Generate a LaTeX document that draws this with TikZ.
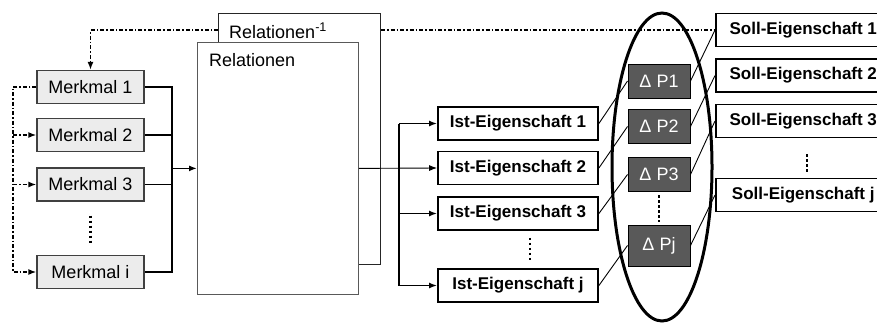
\documentclass[tikz,border=0pt]{standalone}
\usepackage{fontspec}
\setmainfont{Liberation Sans}
\usetikzlibrary{arrows.meta}

\begin{document}
\begin{tikzpicture}[
  x=1pt,y=-1pt,
  font=\fontsize{18}{21}\selectfont,
  >={Latex[length=8pt,width=6pt]},
  box/.style={rectangle,draw,inner sep=0pt,minimum height=33pt},
  mm/.style={box,fill=gray!15,draw=black!75,line width=1.2pt,minimum width=107pt},
  ist/.style={box,line width=1.8pt,minimum width=160pt,font=\fontsize{17}{20}\selectfont\bfseries},
  soll/.style={box,anchor=west,line width=1.5pt,minimum width=175pt,font=\fontsize{17}{20}\selectfont\bfseries},
  dp/.style={box,fill=black!65,draw=black,line width=1pt,minimum width=62pt,minimum height=34pt,text=white},
  relbox/.style={rectangle,draw,fill=white,anchor=north west,inner sep=0pt},
  lbl/.style={anchor=base west,inner sep=0pt},
  wire/.style={line width=1.8pt},
  bus/.style={line width=2.5pt},
  diag/.style={line width=0.9pt},
  fb/.style={line width=1.6pt,dash pattern=on 4pt off 2pt on 1.5pt off 2pt},
  vdots/.style={line width=2.5pt,dash pattern=on 2.5pt off 2.5pt},
  ring/.style={line width=3pt}
]
\useasboundingbox (0,0) rectangle (877,322);

\node[mm] (m1) at (90.5,87)    {Merkmal 1};
\node[mm] (m2) at (90.5,135)   {Merkmal 2};
\node[mm] (m3) at (90.5,184.5) {Merkmal 3};
\node[mm] (mi) at (90.5,272)   {Merkmal i};

\node[relbox,line width=1pt,draw=black!85,minimum width=162pt,minimum height=251pt] (relinv) at (218,13) {};
\node[lbl] (relinvlbl) at (229,38) {Relationen\textsuperscript{-1}};
\node[relbox,line width=0.8pt,draw=black!65,minimum width=161pt,minimum height=252pt] (rel) at (197,42) {};
\node[lbl] (rellbl) at (209,66) {Relationen};

\node[ist] (ist1) at (518,123.5) {Ist-Eigenschaft 1};
\node[ist] (ist2) at (518,168)   {Ist-Eigenschaft 2};
\node[ist] (ist3) at (518,213.5) {Ist-Eigenschaft 3};
\node[ist] (istj) at (518,285.5) {Ist-Eigenschaft j};

\node[dp] (dp1) at (659,81)    {Δ P1};
\node[dp] (dp2) at (659,126.5) {Δ P2};
\node[dp] (dp3) at (659,174.5) {Δ P3};
\node[dp,minimum height=41pt] (dpj) at (659,245.5) {Δ Pj};

\node[soll] (soll1) at (715,30)    {Soll-Eigenschaft 1};
\node[soll] (soll2) at (715,75.5)  {Soll-Eigenschaft 2};
\node[soll] (soll3) at (715,121)   {Soll-Eigenschaft 3};
\node[soll] (sollj) at (715,195)   {Soll-Eigenschaft j};

% merkmale -> relationen
\coordinate (sum) at (172,168);
\draw[wire] (m1.east) -| (mi.east -| sum) -- (mi.east);
\draw[wire] (m2.east) -- (m2.east -| sum);
\draw[wire] (m3.east) -- (m3.east -| sum);
\draw[wire,->] (rel.west -| sum) -- (rel.west);

% feedback loops
\coordinate (back) at (13,0);
\draw[fb,->] (m1.west) -- (m1.west -| back) |- (mi.west);
\draw[fb,->] (m2.west -| back) -- (m2.west);
\draw[fb,->] (m3.west -| back) -- (m3.west);
\draw[fb,->] (relinv.west |- soll1.west) -| (m1.north);
\draw[fb] (relinv.east |- soll1.west) -- (soll1.west);

% relationen -> ist
\coordinate (fan) at (399,0);
\draw[diag,->] (rel.east) -- (ist2.west);
\draw[bus] (ist1.west -| fan) -- (istj.west -| fan);
\foreach \i in {ist1,ist3,istj}
  \draw[wire,->] (\i.west -| fan) -- (\i.west);

\foreach \a/\b in {ist1/dp1,ist2/dp2,ist3/dp3,istj/dpj,dp1/soll1,dp2/soll2,dp3/soll3,dpj/sollj}
  \draw[diag] (\a.east) -- (\b.west);

\draw[ring] (662,167) ellipse [x radius=50pt,y radius=154pt];

\draw[vdots] ([yshift=-14pt]m3.south) -- ([yshift=12pt]mi.north);
\draw[vdots] ([xshift=12pt,yshift=-7pt]ist3.south) -- ([xshift=12pt,yshift=6pt]istj.north);
\draw[vdots] ([yshift=-3pt]dp3.south) -- ([yshift=3pt]dpj.north);
\draw[vdots] ([xshift=3.5pt,yshift=-16pt]soll3.south) -- ([xshift=3.5pt,yshift=6pt]sollj.north);
\end{tikzpicture}
\end{document}
